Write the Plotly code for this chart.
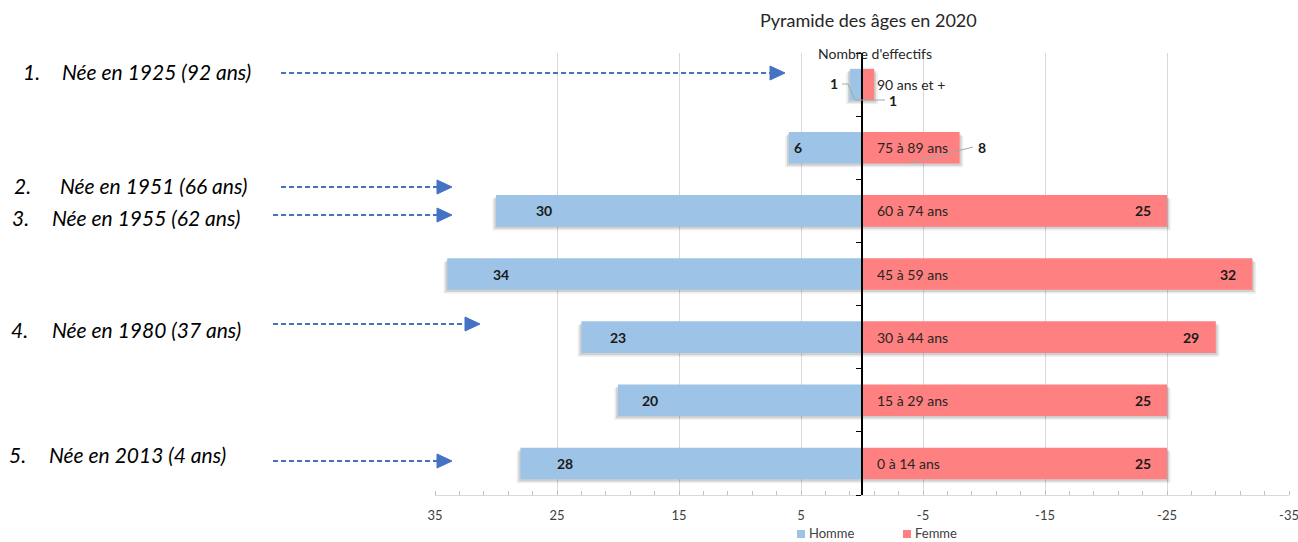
import plotly.graph_objects as go

# Age groups, youngest at the bottom
age_groups = ["0 à 14 ans", "15 à 29 ans", "30 à 44 ans", "45 à 59 ans",
              "60 à 74 ans", "75 à 89 ans", "90 ans et +"]
hommes = [28, 20, 23, 34, 30, 6, 1]
femmes = [25, 25, 29, 32, 25, 8, 1]

tick_values = [35, 25, 15, 5, -5, -15, -25, -35]

# Birth-year notes drawn to the left of the pyramid
notes = [
    ("1.", "Née en 1925 (92 ans)"),
    ("2.", "Née en 1951 (66 ans)"),
    ("3.", "Née en 1955 (62 ans)"),
    ("4.", "Née en 1980 (37 ans)"),
    ("5.", "Née en 2013 (4 ans)"),
]

BLUE = "#9DC3E6"
PINK = "#FF8080"
ARROW = "#4472C4"
FONT = "Lato, 'Open Sans', sans-serif"

W, H = 1298, 542
L, R, T, B = 435, 9, 53, 47
PW, PH = W - L - R, H - T - B
BAR_W = 0.5


def px(x):
    return (x - L) / PW


def py(y):
    return (H - B - y) / PH


fig = go.Figure()

# Soft drop shadow under each bar (two translucent layers, shifted downwards)
for shift, grow, alpha in [(0.06, 0.30, 0.07), (0.035, 0.15, 0.12)]:
    for vals, sign in [(hommes, 1), (femmes, -1)]:
        fig.add_trace(go.Bar(y=age_groups, x=[sign * (v + grow) for v in vals],
                             orientation="h", width=BAR_W, offset=-BAR_W / 2 - shift,
                             marker=dict(color=f"rgba(0,0,0,{alpha})", line=dict(width=0)),
                             hoverinfo="skip", showlegend=False))

fig.add_trace(go.Bar(y=age_groups, x=hommes, orientation="h", name="Homme",
                     marker=dict(color=BLUE, line=dict(width=0)), width=BAR_W))
fig.add_trace(go.Bar(y=age_groups, x=[-v for v in femmes], orientation="h", name="Femme",
                     marker=dict(color=PINK, line=dict(width=0)), width=BAR_W))

ann = []
shapes = []


def label(**kw):
    kw.setdefault("showarrow", False)
    kw.setdefault("xanchor", "center")
    kw.setdefault("yanchor", "middle")
    ann.append(kw)


VAL_FONT = dict(size=14, color="#1a1a1a")

# Value labels inside the bars (the two smallest groups get outside labels)
for cat, h, f in zip(age_groups, hommes, femmes):
    if h >= 5:
        label(x=h * 0.87, y=cat, text=f"<b>{h}</b>", font=VAL_FONT)
    if f >= 10:
        label(x=-(f - 2), y=cat, text=f"<b>{f}</b>", font=VAL_FONT)
    # age group name next to the central axis
    label(x=-1.05, y=cat, text=cat, xanchor="left", font=dict(size=14, color="#262626"))

# Outside labels with leader lines for the small bars
label(x=hommes[6] + 1.3, y=py(84), yref="paper", text=f"<b>{hommes[6]}</b>", font=VAL_FONT)
label(x=-(femmes[6] + 1.5), y=py(101), yref="paper", text=f"<b>{femmes[6]}</b>", font=VAL_FONT)
label(x=-(femmes[5] + 1.8), y=py(147), yref="paper", text=f"<b>{femmes[5]}</b>", font=VAL_FONT)
leader = dict(color="#a6a6a6", width=1)
shapes.append(dict(type="path", xref="paper", yref="paper", line=leader,
                   path=f"M {px(842)},{py(84)} L {px(848)},{py(84)} L {px(855)},{py(100)}"))
shapes.append(dict(type="line", xref="paper", yref="paper", line=leader,
                   x0=px(855), y0=py(100), x1=px(885), y1=py(100)))
shapes.append(dict(type="line", xref="paper", yref="paper", line=leader,
                   x0=px(910), y0=py(163), x1=px(973), y1=py(147)))

# Notes with dashed arrows
note_pos = [
    # number x, text x, text y, arrow x0, arrow x1, arrow y
    (31, 60, 72, 281, 785, 73),
    (22, 58, 185, 281, 452, 187),
    (20, 50, 217, 273, 452, 215),
    (19, 50, 329, 273, 480, 324),
    (17, 47, 454, 273, 452, 461),
]
for (num, txt), (nx, tx, ty, ax0, ax1, ay) in zip(notes, note_pos):
    label(x=px(nx), y=py(ty), xref="paper", yref="paper", text=f"<i>{num}</i>",
          font=dict(family=FONT, size=21, color="#000000"))
    label(x=px(tx), y=py(ty), xref="paper", yref="paper", text=f"<i>{txt}</i>",
          xanchor="left", font=dict(family=FONT, size=21, color="#000000"))
    shapes.append(dict(type="line", xref="paper", yref="paper",
                       x0=px(ax0), y0=py(ay), x1=px(ax1 - 14), y1=py(ay),
                       line=dict(color=ARROW, width=2, dash="5px,3px")))
    shapes.append(dict(type="path", xref="paper", yref="paper",
                       path=f"M {px(ax1 - 15)},{py(ay - 7)} L {px(ax1)},{py(ay)} "
                            f"L {px(ax1 - 15)},{py(ay + 7)} Z",
                       fillcolor=ARROW, line=dict(color=ARROW, width=1)))

# Titles
label(x=px(868), y=py(20), xref="paper", yref="paper",
      text="Pyramide des âges en 2020", font=dict(size=18, color="#262626"))
label(x=px(875), y=py(53), xref="paper", yref="paper",
      text="Nombre d'effectifs", font=dict(size=14, color="#262626"))

# Legend drawn as swatches + labels under the axis
for name, color, sx in [("Homme", BLUE, 797), ("Femme", PINK, 903)]:
    shapes.append(dict(type="rect", xref="paper", yref="paper",
                       x0=px(sx), x1=px(sx + 8), y0=py(530), y1=py(538),
                       fillcolor=color, line=dict(width=0)))
    label(x=px(sx + 10), y=py(533), xref="paper", yref="paper", text=name,
          xanchor="left", font=dict(size=13, color="#404040"))

fig.update_layout(
    width=W, height=H,
    margin=dict(l=L, r=R, t=T, b=B, autoexpand=False),
    barmode="overlay",
    plot_bgcolor="white", paper_bgcolor="white",
    font=dict(family=FONT, size=12, color="#595959"),
    showlegend=False,
    xaxis=dict(range=[35, -35], tickmode="array", tickvals=tick_values,
               ticktext=[str(v) for v in tick_values],
               showgrid=True, gridcolor="#d9d9d9", gridwidth=1, zeroline=False,
               showline=True, linecolor="#d9d9d9", linewidth=1,
               ticks="outside", ticklen=8, tickcolor="rgba(0,0,0,0)",
               ticklabeloverflow="allow",
               tickfont=dict(size=13, color="#404040"),
               minor=dict(tickmode="linear", tick0=35, dtick=2, ticks="inside",
                          ticklen=4, tickcolor="#bfbfbf", showgrid=False)),
    yaxis=dict(range=[-0.5, 6.5], anchor="free", position=0.5,
               showline=True, linecolor="#000000", linewidth=1.5,
               ticks="outside", ticklen=5, tickcolor="#000000", tickson="boundaries",
               showticklabels=False, showgrid=False, zeroline=False),
    annotations=ann,
    shapes=shapes,
)

fig.write_html("out.html")
